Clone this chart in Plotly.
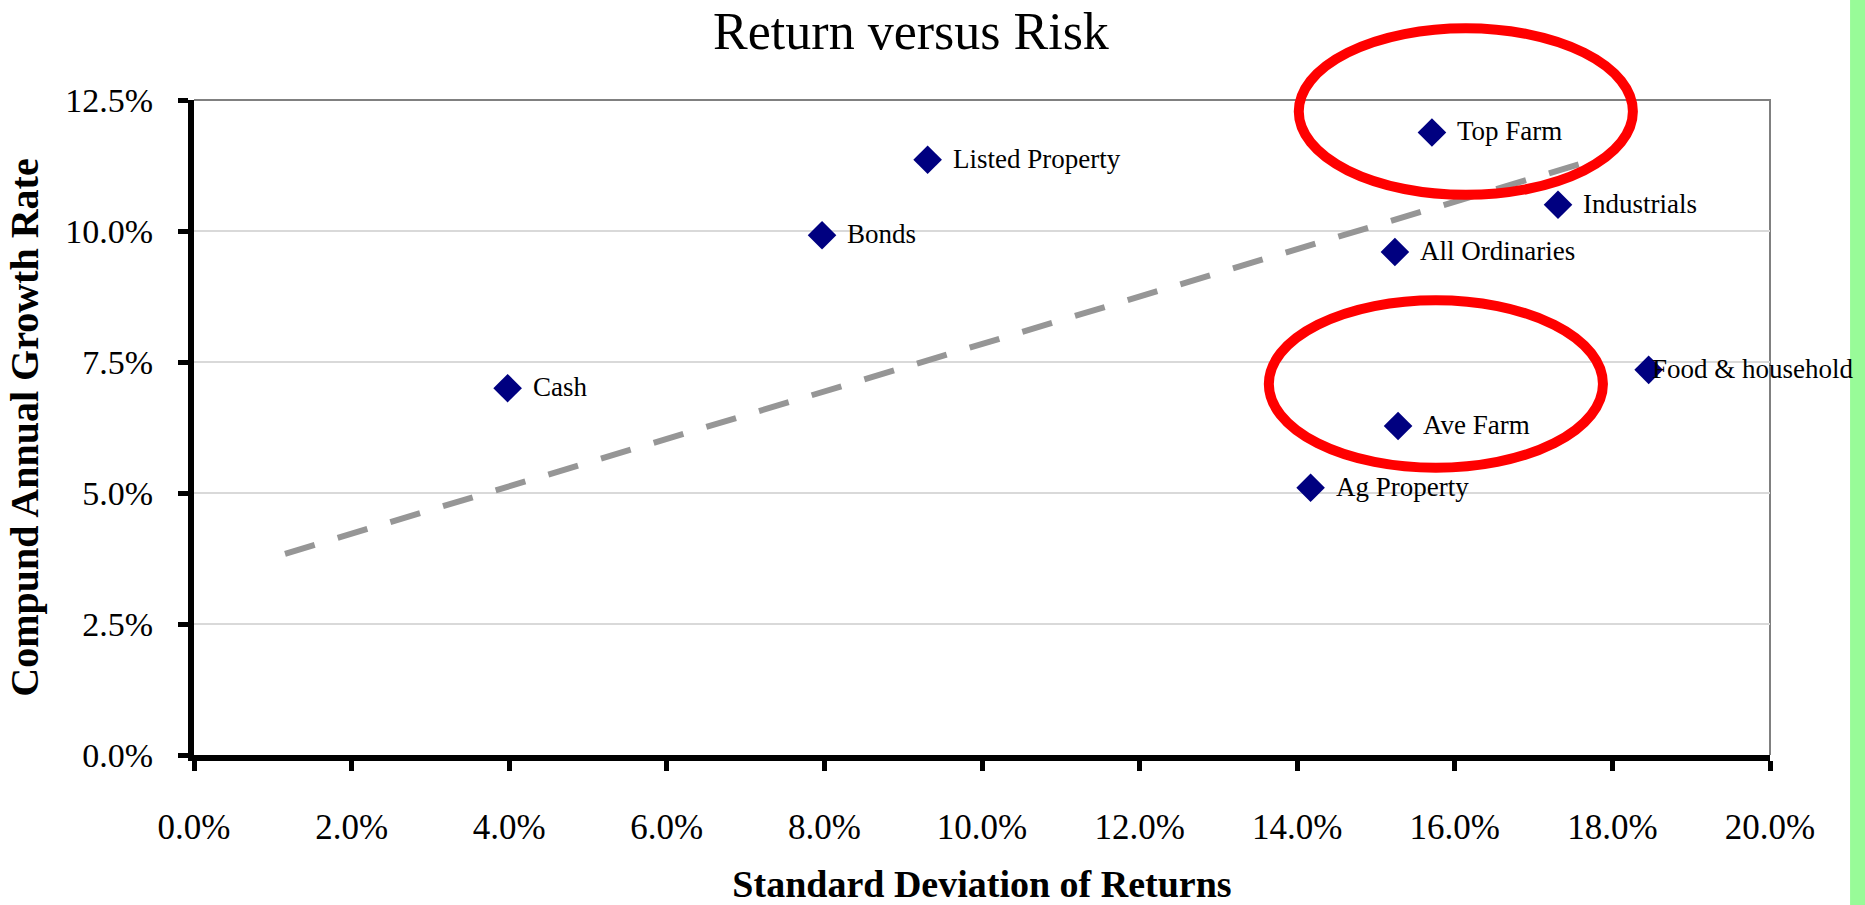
import plotly.graph_objects as go

# ---------------- data ----------------
assets = ["Cash", "Bonds", "Listed Property", "Top Farm", "Industrials",
          "All Ordinaries", "Food & household", "Ave Farm", "Ag Property"]
std_dev = [3.98, 7.97, 9.31, 15.71, 17.31, 15.24, 18.46, 15.28, 14.17]   # % (x)
cagr = [7.00, 9.92, 11.36, 11.88, 10.50, 9.60, 7.35, 6.28, 5.10]         # % (y)

trend_x = [1.155, 17.9]
trend_y = [3.84, 11.42]

x_ticks = [0, 2, 4, 6, 8, 10, 12, 14, 16, 18, 20]
y_ticks = [0, 2.5, 5, 7.5, 10, 12.5]

# highlight ellipses (centre x, centre y, half-width, half-height) in data units
highlights = [(16.14, 12.28, 2.12, 1.59), (15.76, 7.08, 2.12, 1.60)]

X_RANGE = [0, 20]
Y_RANGE = [0, 12.5]

FONT = "Palatino Linotype, Book Antiqua, Palatino, Liberation Serif, serif"
LABEL_SHIFT_DEFAULT = 23
LABEL_SHIFT_OVERRIDE = {"Food & household": 1}   # label pushed left over its marker, as in the source

fig = go.Figure()

fig.add_trace(go.Scatter(
    x=trend_x, y=trend_y, mode="lines",
    line=dict(color="#969696", width=6, dash="31px,24px"),
    hoverinfo="skip", showlegend=False,
))

fig.add_trace(go.Scatter(
    x=std_dev, y=cagr, mode="markers",
    marker=dict(symbol="diamond", size=22, color="#000080", line=dict(width=0)),
    text=assets, hovertemplate="%{text}<br>SD %{x:.1f}%<br>CAGR %{y:.1f}%<extra></extra>",
    showlegend=False, cliponaxis=False,
))

# data labels
for name, xv, yv in zip(assets, std_dev, cagr):
    fig.add_annotation(x=xv, y=yv, xref="x", yref="y", text=name, showarrow=False,
                       xanchor="left", yanchor="middle",
                       xshift=LABEL_SHIFT_OVERRIDE.get(name, LABEL_SHIFT_DEFAULT), yshift=1,
                       font=dict(family=FONT, size=27, color="black"))

shapes = []
# top/right border
shapes.append(dict(type="path", xref="paper", yref="paper", path="M0,1 L1,1 L1,0",
                   line=dict(color="#808080", width=2), layer="below"))
# highlight ellipses
for cx, cy, rx, ry in highlights:
    shapes.append(dict(type="circle", xref="paper", yref="paper",
                       x0=(cx - rx - X_RANGE[0]) / (X_RANGE[1] - X_RANGE[0]),
                       x1=(cx + rx - X_RANGE[0]) / (X_RANGE[1] - X_RANGE[0]),
                       y0=(cy - ry - Y_RANGE[0]) / (Y_RANGE[1] - Y_RANGE[0]),
                       y1=(cy + ry - Y_RANGE[0]) / (Y_RANGE[1] - Y_RANGE[0]),
                       line=dict(color="#FF0000", width=10), layer="above"))
# green band at the right edge
shapes.append(dict(type="rect", xref="paper", yref="paper", x0=1.0508, x1=1.2, y0=-0.5, y1=1.5,
                   fillcolor="#98FB98", line=dict(width=0), layer="below"))

fig.update_layout(
    width=1865, height=905,
    margin=dict(l=194, r=95, t=100, b=150),
    paper_bgcolor="white", plot_bgcolor="white",
    font=dict(family=FONT, color="black"),
    title=dict(text="Return versus Risk", x=911 / 1865, xref="container", xanchor="center",
               y=1 - 31 / 905, yref="container", yanchor="middle",
               font=dict(family=FONT, size=52, color="black")),
    shapes=shapes,
    showlegend=False,
)

fig.update_xaxes(
    range=X_RANGE, tickvals=x_ticks, ticktext=[f"{v:.1f}%" for v in x_ticks],
    showgrid=False, zeroline=False, automargin=False,
    showline=True, linecolor="black", linewidth=6,
    ticks="outside", ticklen=10, tickwidth=5, tickcolor="black",
    ticklabelstandoff=26,
    tickfont=dict(family=FONT, size=35, color="black"),
    title=dict(text="<b>Standard Deviation of Returns</b>", standoff=26,
               font=dict(family=FONT, size=38, color="black")),
)
fig.update_yaxes(
    range=Y_RANGE, tickvals=y_ticks, ticktext=[f"{v:.1f}%" for v in y_ticks],
    showgrid=True, gridcolor="#D9D9D9", gridwidth=1.5, zeroline=False, automargin=False,
    showline=True, linecolor="black", linewidth=6,
    ticks="outside", ticklen=10, tickwidth=5, tickcolor="black",
    ticklabelstandoff=18,
    tickfont=dict(family=FONT, size=34, color="black"),
    title=dict(text="<b>Compund Annual Growth Rate</b>", standoff=16,
               font=dict(family=FONT, size=40, color="black")),
)

fig.write_html(
    "out.html",
    config={"displayModeBar": False},
    post_script="document.body.style.margin='0';document.body.style.overflow='hidden';",
)
